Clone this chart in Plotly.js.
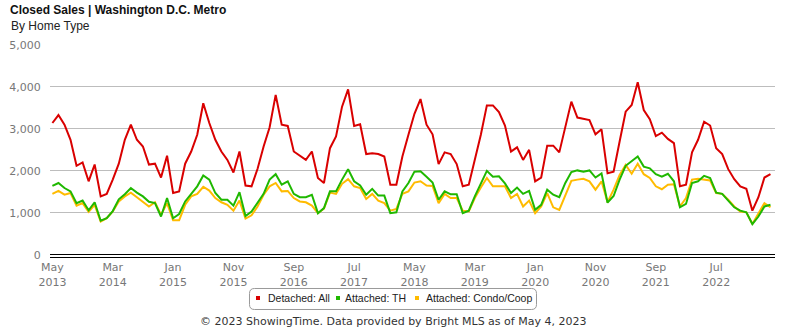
<!DOCTYPE html>
<html>
<head>
<meta charset="utf-8">
<script src="https://cdn.plot.ly/plotly-3.0.1.min.js"></script>
<style>
  html, body { margin: 0; padding: 0; background: #fff; }
  #chart { width: 785px; height: 330px; }
</style>
</head>
<body>
<div id="chart"></div>
<script>
// ---- Data (monthly closed sales, May 2013 - Apr 2023) ----
const months = [
  "2013-05","2013-06","2013-07","2013-08","2013-09","2013-10","2013-11","2013-12",
  "2014-01","2014-02","2014-03","2014-04","2014-05","2014-06","2014-07","2014-08","2014-09","2014-10","2014-11","2014-12",
  "2015-01","2015-02","2015-03","2015-04","2015-05","2015-06","2015-07","2015-08","2015-09","2015-10","2015-11","2015-12",
  "2016-01","2016-02","2016-03","2016-04","2016-05","2016-06","2016-07","2016-08","2016-09","2016-10","2016-11","2016-12",
  "2017-01","2017-02","2017-03","2017-04","2017-05","2017-06","2017-07","2017-08","2017-09","2017-10","2017-11","2017-12",
  "2018-01","2018-02","2018-03","2018-04","2018-05","2018-06","2018-07","2018-08","2018-09","2018-10","2018-11","2018-12",
  "2019-01","2019-02","2019-03","2019-04","2019-05","2019-06","2019-07","2019-08","2019-09","2019-10","2019-11","2019-12",
  "2020-01","2020-02","2020-03","2020-04","2020-05","2020-06","2020-07","2020-08","2020-09","2020-10","2020-11","2020-12",
  "2021-01","2021-02","2021-03","2021-04","2021-05","2021-06","2021-07","2021-08","2021-09","2021-10","2021-11","2021-12",
  "2022-01","2022-02","2022-03","2022-04","2022-05","2022-06","2022-07","2022-08","2022-09","2022-10","2022-11","2022-12",
  "2023-01","2023-02","2023-03","2023-04"
];

const detachedAll = [
  3140,3330,3100,2740,2120,2200,1750,2150,
  1390,1450,1790,2170,2740,3100,2740,2580,2150,2170,1840,2360,
  1470,1510,2170,2460,2860,3610,3140,2740,2460,2260,1960,2460,
  1650,1630,2050,2580,3040,3810,3100,3070,2460,2360,2260,2460,
  1830,1710,2540,2820,3530,3940,3070,3110,2400,2420,2400,2340,
  1670,1670,2340,2860,3360,3710,3100,2870,2160,2440,2400,2160,
  1630,1670,2260,2860,3560,3560,3400,3080,2460,2560,2260,2500,
  1750,1840,2600,2600,2440,3060,3650,3270,3240,3210,2870,2990,
  1940,1980,2700,3410,3570,4110,3450,3230,2830,2910,2760,2660,
  1630,1670,2440,2740,3170,3080,2540,2400,2040,1800,1630,1570,
  1050,1370,1840,1920
];

const attachedTH = [
  1640,1710,1590,1510,1230,1290,1060,1250,
  810,870,1040,1320,1440,1590,1480,1390,1260,1230,910,1350,
  870,970,1270,1450,1630,1890,1790,1470,1310,1310,1170,1490,
  920,1030,1230,1450,1790,1920,1670,1750,1450,1370,1370,1430,
  990,1110,1510,1510,1790,2040,1750,1650,1430,1570,1410,1410,
  990,1010,1510,1710,1980,1990,1860,1720,1310,1510,1440,1440,
  990,1050,1390,1710,2000,1860,1870,1700,1470,1600,1450,1520,
  1070,1190,1550,1430,1370,1710,1970,2010,1980,2010,1840,1940,
  1240,1400,1790,2120,2220,2340,2100,2060,1920,1860,1930,1750,
  1130,1210,1710,1750,1880,1830,1480,1450,1290,1130,1050,1010,
  730,910,1150,1190
];

const attachedCondo = [
  1450,1520,1430,1470,1170,1230,1020,1190,
  790,870,1030,1270,1390,1480,1370,1250,1150,1250,950,1230,
  820,820,1190,1390,1450,1620,1530,1350,1250,1190,1050,1290,
  860,940,1150,1430,1630,1710,1510,1520,1350,1270,1250,1170,
  990,1100,1480,1450,1690,1800,1630,1590,1330,1450,1290,1230,
  1050,1090,1450,1510,1720,1750,1650,1640,1230,1450,1350,1350,
  1050,1030,1350,1600,1830,1630,1630,1630,1350,1450,1150,1290,
  990,1150,1470,1130,1070,1430,1760,1790,1810,1750,1550,1750,
  1250,1550,1900,2140,1930,2170,1920,1830,1630,1560,1670,1680,
  1150,1350,1790,1810,1790,1770,1470,1450,1310,1150,1030,1010,
  730,990,1230,1130
];

const seriesNames = ["Detached: All", "Attached: TH", "Attached: Condo/Coop"];
const seriesColors = ["#d90000", "#1fb800", "#ffbb00"];

const tickMonths = ["2013-05","2014-03","2015-01","2015-11","2016-09","2017-07",
                    "2018-05","2019-03","2020-01","2020-11","2021-09","2022-07"];
const tickLabels = ["May<br>2013","Mar<br>2014","Jan<br>2015","Nov<br>2015","Sep<br>2016","Jul<br>2017",
                    "May<br>2018","Mar<br>2019","Jan<br>2020","Nov<br>2020","Sep<br>2021","Jul<br>2022"];
const yTicks = [0, 1000, 2000, 3000, 4000, 5000];

// ---- Layout geometry (pixels) ----
const W = 785, H = 330;
const M = { l: 50, r: 10, t: 45, b: 73 };
const plotW = W - M.l - M.r, plotH = H - M.t - M.b;
const px = x => (x - M.l) / plotW;          // page px -> paper x
const py = y => (H - M.b - y) / plotH;      // page px -> paper y

const seriesValues = [detachedAll, attachedTH, attachedCondo];
const traces = seriesValues.map((vals, k) => ({
  type: "scatter",
  mode: "lines",
  x: months,
  y: vals,
  name: seriesNames[k],
  line: { color: seriesColors[k], width: 2 },
  showlegend: false,
  hoverinfo: "x+y+name"
}));
// draw red on top like the reference
traces.reverse();

// legend built from names/colors
const legendText = [266, 343, 424];
const legendMark = [258, 338, 417];
const legendY = 298;
const annotations = seriesNames.map((n, k) => ({
  text: n, xref: "paper", yref: "paper",
  x: px(legendText[k]), y: py(legendY), xanchor: "left", yanchor: "middle",
  showarrow: false,
  font: { family: "Liberation Sans, Arial, sans-serif", size: 10.5, color: "#222" }
}));
annotations.push({
  text: "By Home Type",
  xref: "paper", yref: "paper", x: px(9), y: py(26),
  xanchor: "left", yanchor: "middle", showarrow: false,
  font: { family: "Liberation Sans, Arial, sans-serif", size: 12, color: "#222" }
});
annotations.push({
  text: "© 2023 ShowingTime. Data provided by Bright MLS as of May 4, 2023",
  xref: "paper", yref: "paper", x: px(392.5), y: py(321),
  xanchor: "center", yanchor: "middle", showarrow: false,
  font: { family: "DejaVu Sans, sans-serif", size: 11, color: "#333" }
});

function roundRect(x0, y0, x1, y1, r) {
  const X = v => px(v).toFixed(5), Y = v => py(v).toFixed(5);
  return `M ${X(x0 + r)},${Y(y0)} L ${X(x1 - r)},${Y(y0)} Q ${X(x1)},${Y(y0)} ${X(x1)},${Y(y0 + r)} ` +
         `L ${X(x1)},${Y(y1 - r)} Q ${X(x1)},${Y(y1)} ${X(x1 - r)},${Y(y1)} ` +
         `L ${X(x0 + r)},${Y(y1)} Q ${X(x0)},${Y(y1)} ${X(x0)},${Y(y1 - r)} ` +
         `L ${X(x0)},${Y(y0 + r)} Q ${X(x0)},${Y(y0)} ${X(x0 + r)},${Y(y0)} Z`;
}
const shapes = [{
  type: "path", xref: "paper", yref: "paper",
  path: roundRect(249.5, 288.5, 536.5, 309.5, 5),
  line: { color: "#999", width: 1 }, fillcolor: "rgba(0,0,0,0)"
}];
seriesColors.forEach((c, k) => {
  shapes.push({
    type: "rect", xref: "paper", yref: "paper",
    x0: px(legendMark[k] - 2), x1: px(legendMark[k] + 2),
    y0: py(legendY - 2), y1: py(legendY + 2),
    line: { width: 0 }, fillcolor: c
  });
});

const layout = {
  width: W, height: H,
  margin: M,
  paper_bgcolor: "#fff", plot_bgcolor: "#fff",
  font: { family: "DejaVu Sans, sans-serif", size: 11, color: "#777" },
  title: {
    text: "<b>Closed Sales | Washington D.C. Metro</b>",
    font: { family: "Liberation Sans, Arial, sans-serif", size: 12, color: "#111" },
    xref: "container", yref: "container",
    x: 10 / W, xanchor: "left", y: 1 - 6 / H, yanchor: "top"
  },
  xaxis: {
    type: "category",
    range: [-0.4, months.length - 0.25],
    tickmode: "array", tickvals: tickMonths, ticktext: tickLabels,
    showgrid: false, zeroline: false,
    showline: true, linecolor: "#000", linewidth: 1,
    ticks: "", tickfont: { family: "DejaVu Sans, sans-serif", size: 11, color: "#777" },
    fixedrange: true
  },
  yaxis: {
    range: [-55, 5000],
    tickmode: "array", tickvals: yTicks, tickformat: ",d",
    showgrid: true, gridcolor: "#bdbdbd", gridwidth: 1,
    zeroline: true, zerolinecolor: "#000", zerolinewidth: 1,
    showline: false, ticks: "outside", ticklen: 6, tickcolor: "rgba(0,0,0,0)",
    tickfont: { family: "DejaVu Sans, sans-serif", size: 11, color: "#777" },
    fixedrange: true
  },
  annotations: annotations,
  shapes: shapes,
  showlegend: false
};

Plotly.newPlot("chart", traces, layout, { displayModeBar: false, staticPlot: true });
</script>
</body>
</html>
